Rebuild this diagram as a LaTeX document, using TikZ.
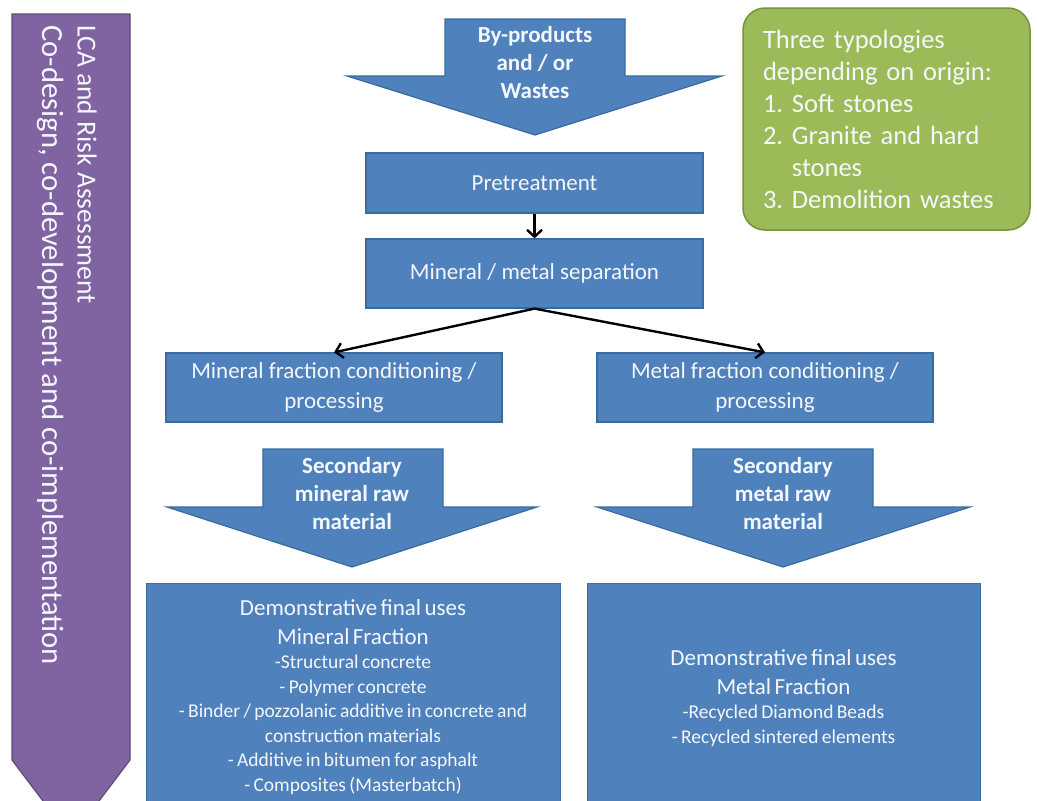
\documentclass[tikz,border=0pt]{standalone}
\usepackage{fontspec}
\setmainfont{Carlito}
\usetikzlibrary{arrows.meta}

\definecolor{blockblue}{HTML}{4F81BD}
\definecolor{blockedge}{HTML}{3A6A9F}
\definecolor{leafgreen}{HTML}{9BBB59}
\definecolor{leafedge}{HTML}{76923C}
\definecolor{lcapurple}{HTML}{8064A2}
\definecolor{lcaedge}{HTML}{5F4A7A}
\definecolor{lighttext}{HTML}{F4F7FB}

\begin{document}
\begin{tikzpicture}[x=1pt,y=-1pt,
  box/.style={draw=blockedge, line width=1.2pt, fill=blockblue, text=lighttext,
    align=center, inner sep=0pt, font=\fontsize{23}{30}\selectfont},
  blockarrow/.style={draw=blockedge, line width=1.2pt, fill=blockblue, line join=miter},
  arrowtext/.style={text=lighttext, align=center, inner sep=0pt,
    font=\bfseries\fontsize{23}{28}\selectfont},
  usetext/.style={text=lighttext, align=center, inner sep=0pt},
  sidetext/.style={text=lighttext, rotate=-90, anchor=west, inner sep=0pt},
  conn/.style={draw=black, line width=2.4pt,
    -{Straight Barb[length=7pt, width=15pt, line width=2.4pt]}},
]
\fill[white] (0,0) rectangle (1037,801);
\useasboundingbox (0,0) rectangle (1037,801);

% side band: LCA and co-design
\filldraw[fill=lcapurple, draw=lcaedge, line width=1.2pt]
  (12,14) -- (130,14) -- (130,760) -- (71,838) -- (12,760) -- cycle;
\node[sidetext, font=\fontsize{27.5}{32}\selectfont] (lca) at (87,25) {LCA and Risk Assessment};
\node[sidetext, font=\fontsize{30.7}{34}\selectfont] (codesign) at (51,25)
  {Co-design, co-development and co-implementation};

% input arrow
\filldraw[blockarrow] (445,19) -- (625,19) -- (625,76) -- (722,76) -- (535,135)
  -- (347,76) -- (445,76) -- cycle;
\node[arrowtext] (input) at (535,63) {By-products\\and / or\\Wastes};

% origins box
\node[draw=leafedge, fill=leafgreen, line width=1.5pt, rounded corners=22pt,
  text=lighttext, text width=247pt, inner xsep=20pt, inner ysep=0pt,
  minimum height=222pt, align=left, font=\fontsize{26.5}{32}\selectfont]
  (origins) at (886.5,119)
  {Three typologies\\depending on origin:\\1.~Soft stones\\2.~Granite and hard\\
   \hphantom{2.~}stones\\3.~Demolition wastes};

% process chain
\node[box, minimum width=337pt, minimum height=60pt] (pre) at (534.5,183) {Pretreatment};
\node[box, minimum width=337pt, minimum height=69pt] (sep) at (534.5,273.5)
  {Mineral / metal separation};
\node[box, minimum width=336pt, minimum height=69pt] (minproc) at (334,387.5)
  {Mineral fraction conditioning /\\processing};
\node[box, minimum width=336pt, minimum height=69pt] (metproc) at (765,387.5)
  {Metal fraction conditioning /\\processing};

\draw[conn] (pre.south) -- (sep.north);
\draw[conn] (sep.south) -- (minproc.north);
\draw[conn] (sep.south) -- (metproc.north);

% secondary raw material arrows
\filldraw[blockarrow] (263,449) -- (443,449) -- (443,507) -- (537,507) -- (352,567)
  -- (167,507) -- (263,507) -- cycle;
\node[arrowtext] (minraw) at (352,494) {Secondary\\mineral raw\\material};
\filldraw[blockarrow] (693,449) -- (873,449) -- (873,507) -- (970,507) -- (783,567)
  -- (597,507) -- (693,507) -- cycle;
\node[arrowtext] (metraw) at (783,494) {Secondary\\metal raw\\material};

% final uses
\node[box, minimum width=414pt, minimum height=232pt, anchor=north west] (minuse)
  at (146,583) {};
\node[box, minimum width=393pt, minimum height=232pt, anchor=north west] (metuse)
  at (587,583) {};

\node[usetext, text width=410pt, anchor=base] (minlist) at (353,615)
  {{\fontsize{23}{29}\selectfont Demonstrative final uses\\Mineral Fraction\par}%
   {\fontsize{19.5}{24.5}\selectfont -Structural concrete\\- Polymer concrete\\
    - Binder / pozzolanic additive in concrete and\\construction materials\\
    - Additive in bitumen for asphalt\\- Composites (Masterbatch)\par}};
\node[usetext, text width=385pt, anchor=base] (metlist) at (783.5,665)
  {{\fontsize{23}{29}\selectfont Demonstrative final uses\\Metal Fraction\par}%
   {\fontsize{19.5}{24.5}\selectfont -Recycled Diamond Beads\\- Recycled sintered elements\par}};
\end{tikzpicture}
\end{document}
